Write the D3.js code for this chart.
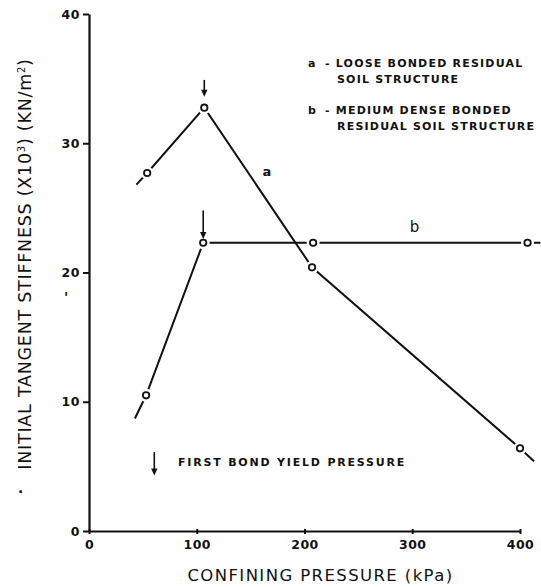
<!DOCTYPE html>
<html>
<head>
<meta charset="utf-8">
<script src="https://cdn.jsdelivr.net/npm/d3@7/dist/d3.min.js"></script>
<style>
  html, body { margin: 0; padding: 0; background: #fff; }
  svg { display: block; }
  text { fill: #111; }
</style>
</head>
<body>
<script>
// Confining pressure (kPa) and initial tangent stiffness (x10^3 kN/m^2)
// The first and last rows of each series are the short line run-outs beyond the end test points.
const pressureA  = [44, 54, 107, 207, 400, 413];
const stiffnessA = [26.8, 27.7, 32.75, 20.4, 6.4, 5.4];
const markerA    = [false, true, true, true, true, false];

const pressureB  = [42.6, 53, 106, 208, 407, 419];
const stiffnessB = [8.7, 10.5, 22.3, 22.3, 22.3, 22.3];
const markerB    = [false, true, true, true, true, false];

// First bond yield pressure arrows: x, top, tip
const arrowX    = [107, 106, 60.6];
const arrowTop  = [34.9, 24.8, 6.1];
const arrowTip  = [33.6, 22.6, 4.3];

const xTicks = [0, 100, 200, 300, 400];
const yTicks = [0, 10, 20, 30, 40];

const legendLines = [
  ["a", "- LOOSE BONDED RESIDUAL", "SOIL STRUCTURE"],
  ["b", "- MEDIUM DENSE BONDED", "RESIDUAL SOIL STRUCTURE"]
];

const W = 541, H = 587;
const svg = d3.select("body").append("svg").attr("width", W).attr("height", H);

const x = d3.scaleLinear().domain([0, 400]).range([89, 520]);
const y = d3.scaleLinear().domain([0, 40]).range([531, 14]);

const font = "'DejaVu Sans', sans-serif";

// Axes
const xAxis = d3.axisBottom(x).tickValues(xTicks).tickSize(4).tickSizeOuter(0).tickPadding(5);
const yAxis = d3.axisLeft(y).tickValues(yTicks).tickSize(6).tickSizeOuter(0).tickPadding(3);

const gx = svg.append("g").attr("transform", `translate(0,${y(0)})`).call(xAxis);
const gy = svg.append("g").attr("transform", `translate(${x(0)},0)`).call(yAxis);

[gx, gy].forEach(g => {
  g.select(".domain").attr("stroke", "#111").attr("stroke-width", 2.2);
  g.selectAll(".tick line").attr("stroke", "#111").attr("stroke-width", 2);
  g.selectAll(".tick text")
    .attr("font-family", font).attr("font-weight", "bold")
    .attr("font-size", 12.5).attr("letter-spacing", 0.5).attr("fill", "#111");
});
gx.selectAll(".tick line").attr("y1", -2).attr("y2", 3);

// Axis titles
svg.append("text")
  .attr("x", (x(0) + x(400)) / 2 + 16).attr("y", 581)
  .attr("text-anchor", "middle")
  .attr("font-family", font).attr("font-size", 16.5)
  .attr("letter-spacing", 1.4)
  .text("CONFINING PRESSURE (kPa)");

const yt = svg.append("text")
  .attr("transform", `translate(31,${264}) rotate(-90)`)
  .attr("text-anchor", "middle")
  .attr("font-family", font).attr("font-size", 17.5)
  .attr("letter-spacing", 0.75);
yt.append("tspan").text("INITIAL TANGENT STIFFNESS (X10");
yt.append("tspan").attr("dy", -6).attr("font-size", 10).text("3");
yt.append("tspan").attr("dy", 6).text(") (KN/m");
yt.append("tspan").attr("dy", -6).attr("font-size", 10).text("2");
yt.append("tspan").attr("dy", 6).text(")");

// small stray marks in the drawing
svg.append("text").attr("x", 18).attr("y", 493).attr("font-family", font)
  .attr("font-size", 14).attr("font-weight", "bold").text(".");
svg.append("text").attr("x", 64).attr("y", 302).attr("font-family", font)
  .attr("font-size", 14).attr("font-weight", "bold").text("'");

// Series
const line = d3.line().x(d => x(d.p)).y(d => y(d.s));
function series(ps, ss, ms) { return ps.map((p, i) => ({ p, s: ss[i], m: ms[i] })); }
const dataA = series(pressureA, stiffnessA, markerA);
const dataB = series(pressureB, stiffnessB, markerB);

[dataA, dataB].forEach(data => {
  svg.append("path").datum(data).attr("d", line)
    .attr("fill", "none").attr("stroke", "#111").attr("stroke-width", 2);
});

// Open circle markers with a white halo that breaks the line
[dataA, dataB].forEach(data => {
  const pts = data.filter(d => d.m);
  svg.selectAll(null).data(pts).enter().append("circle")
    .attr("cx", d => x(d.p)).attr("cy", d => y(d.s)).attr("r", 6.5).attr("fill", "#fff");
  svg.selectAll(null).data(pts).enter().append("circle")
    .attr("cx", d => x(d.p)).attr("cy", d => y(d.s)).attr("r", 3.2)
    .attr("fill", "#fff").attr("stroke", "#111").attr("stroke-width", 1.8);
});

// Curve labels
svg.append("text").attr("x", x(165)).attr("y", y(27.45)).attr("text-anchor", "middle")
  .attr("font-family", font).attr("font-weight", "bold").attr("font-size", 13).text("a");
svg.append("text").attr("x", x(302)).attr("y", y(23.1)).attr("text-anchor", "middle")
  .attr("font-family", font).attr("font-size", 15).text("b");

// Yield arrows
const arrows = arrowX.map((p, i) => ({ p, top: arrowTop[i], tip: arrowTip[i] }));
const ga = svg.append("g");
arrows.forEach(a => {
  const xp = x(a.p), y0 = y(a.top), y1 = y(a.tip);
  ga.append("line").attr("x1", xp).attr("x2", xp).attr("y1", y0).attr("y2", y1 - 5)
    .attr("stroke", "#111").attr("stroke-width", 1.6);
  ga.append("path")
    .attr("d", `M${xp - 3.2},${y1 - 7} L${xp + 3.2},${y1 - 7} L${xp},${y1} Z`)
    .attr("fill", "#111");
});

svg.append("text").attr("x", 178).attr("y", 466)
  .attr("font-family", font).attr("font-weight", "bold").attr("font-size", 11)
  .attr("letter-spacing", 1.8)
  .text("FIRST BOND YIELD PRESSURE");

// Legend
const lg = svg.append("g").attr("font-family", font).attr("font-weight", "bold")
  .attr("font-size", 11).attr("letter-spacing", 1.2);
legendLines.forEach((l, i) => {
  const by = 67 + i * 47;
  lg.append("text").attr("x", 308).attr("y", by).text(l[0]);
  lg.append("text").attr("x", 325).attr("y", by).text(l[1]);
  lg.append("text").attr("x", 337).attr("y", by + 16).text(l[2]);
});
</script>
</body>
</html>
